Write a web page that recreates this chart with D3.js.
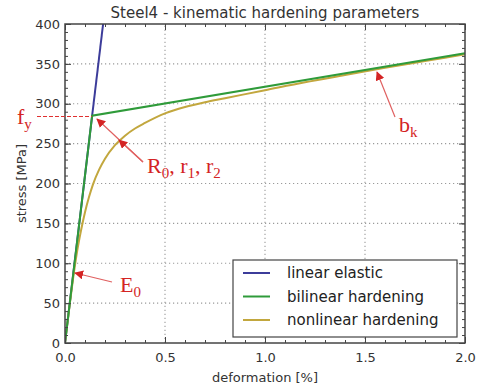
<!DOCTYPE html>
<html><head><meta charset="utf-8">
<script src="https://cdn.jsdelivr.net/npm/d3@7"></script>
<style>body{margin:0;background:#fff}svg{display:block}</style>
</head><body>
<svg id="c" width="478" height="389"></svg>
<script>
// Data (strain in %, stress in MPa)
const linearElastic = [[0, 0], [0.1905, 400]];
const bilinearHardening = [[0, 0], [0.1357, 285], [2.0, 363.3]];
const nonlinearStrain = [0, 0.02, 0.04, 0.06, 0.08, 0.10, 0.12, 0.14, 0.17, 0.20, 0.25, 0.30, 0.35, 0.40, 0.50, 0.60, 0.70, 0.80, 1.00, 1.20, 1.40, 1.60, 1.80, 2.00];
const nonlinearStress = [0, 41, 80, 114, 141, 164, 183, 199, 217, 231, 248, 260, 269, 276, 288, 296, 302, 307, 317, 327, 336, 345, 353.5, 362];
const xTicks = [0, 0.5, 1.0, 1.5, 2.0];
const yTicks = [0, 50, 100, 150, 200, 250, 300, 350, 400];
const seriesNames = ["linear elastic", "bilinear hardening", "nonlinear hardening"];
const seriesColors = ["#3c3c9a", "#2f9b3a", "#c2a73e"];
const fy = 285;

const svg = d3.select("#c");
const x = d3.scaleLinear().domain([0, 2]).range([65, 465]);
const y = d3.scaleLinear().domain([0, 400]).range([343, 24]);
const red = "#d42424";

const defs = svg.append("defs");
const clip = defs.append("clipPath").attr("id", "clip");
clip.append("rect").attr("x", x(0)).attr("y", y(400)).attr("width", x(2) - x(0)).attr("height", y(0) - y(400));
defs.append("marker").attr("id", "ah").attr("viewBox", "0 0 10 10").attr("refX", 9).attr("refY", 5)
  .attr("markerWidth", 9).attr("markerHeight", 9).attr("markerUnits", "userSpaceOnUse").attr("orient", "auto")
  .append("path").attr("d", "M0,0 L10,5 L0,10 z").attr("fill", red);

// grid
const grid = svg.append("g").attr("stroke", "#9a9a9a").attr("stroke-width", 1.1).attr("stroke-dasharray", "1.2,2.8");
xTicks.slice(1, -1).forEach(t => grid.append("line").attr("x1", x(t)).attr("x2", x(t)).attr("y1", y(0)).attr("y2", y(400)));
yTicks.slice(1, -1).forEach(t => grid.append("line").attr("y1", y(t)).attr("y2", y(t)).attr("x1", x(0)).attr("x2", x(2)));

// series
const line = d3.line().x(d => x(d[0])).y(d => y(d[1]));
const curve = d3.line().curve(d3.curveMonotoneX).x(d => x(d[0])).y(d => y(d[1]));
const nonlinear = nonlinearStrain.map((s, i) => [s, nonlinearStress[i]]);
const plot = svg.append("g").attr("clip-path", "url(#clip)");
plot.append("path").attr("d", line(linearElastic)).attr("fill", "none").attr("stroke", seriesColors[0]).attr("stroke-width", 2);
plot.append("path").attr("d", curve(nonlinear)).attr("fill", "none").attr("stroke", seriesColors[2]).attr("stroke-width", 2);
plot.append("path").attr("d", line(bilinearHardening)).attr("fill", "none").attr("stroke", seriesColors[1]).attr("stroke-width", 2);

// axes with inward ticks on all sides
const tickCol = "#444";
function axisG(axis, tx, ty) {
  const g = svg.append("g").attr("transform", `translate(${tx},${ty})`).call(axis);
  g.select(".domain").remove();
  g.selectAll("line").attr("stroke", tickCol).attr("stroke-width", 1);
  g.selectAll("text").attr("fill", "#333").attr("font-family", "DejaVu Sans").attr("font-size", 13);
  return g;
}
const xMinor = d3.range(0, 2.0001, 0.1);
const yMinor = d3.range(0, 400.0001, 10);
axisG(d3.axisBottom(x).tickValues(xMinor).tickSize(-3).tickFormat(""), 0, y(0));
axisG(d3.axisBottom(x).tickValues(xTicks).tickSize(-6).tickPadding(10).tickFormat(d3.format(".1f")), 0, y(0));
axisG(d3.axisTop(x).tickValues(xMinor).tickSize(-3).tickFormat(""), 0, y(400));
axisG(d3.axisTop(x).tickValues(xTicks).tickSize(-6).tickFormat(""), 0, y(400));
axisG(d3.axisLeft(y).tickValues(yMinor).tickSize(-3).tickFormat(""), x(0), 0);
axisG(d3.axisLeft(y).tickValues(yTicks).tickSize(-6).tickPadding(5).tickFormat(d3.format("d")), x(0), 0);
axisG(d3.axisRight(y).tickValues(yMinor).tickSize(-3).tickFormat(""), x(2), 0);
axisG(d3.axisRight(y).tickValues(yTicks).tickSize(-6).tickFormat(""), x(2), 0);

// frame
svg.append("rect").attr("x", x(0)).attr("y", y(400)).attr("width", x(2) - x(0)).attr("height", y(0) - y(400))
  .attr("fill", "none").attr("stroke", "#444").attr("stroke-width", 1.5);

// fy dashed line (drawn over frame)
svg.append("line").attr("x1", 37).attr("x2", x(bilinearHardening[1][0])).attr("y1", Math.round(y(fy)) + 0.5).attr("y2", Math.round(y(fy)) + 0.5)
  .attr("stroke", "#e03030").attr("stroke-width", 1).attr("stroke-dasharray", "4,2");

// title & labels
svg.append("text").attr("x", 265).attr("y", 18).attr("text-anchor", "middle").attr("font-family", "DejaVu Sans")
  .attr("font-size", 15).attr("fill", "#333").text("Steel4 - kinematic hardening parameters");
svg.append("text").attr("x", 265).attr("y", 382).attr("text-anchor", "middle").attr("font-family", "DejaVu Sans")
  .attr("font-size", 13).attr("fill", "#333").text("deformation [%]");
svg.append("text").attr("transform", `translate(26,${(y(0) + y(400)) / 2}) rotate(-90)`).attr("text-anchor", "middle")
  .attr("font-family", "DejaVu Sans").attr("font-size", 13).attr("fill", "#333").text("stress [MPa]");

// legend
const lg = svg.append("g");
lg.append("rect").attr("x", 233).attr("y", 260).attr("width", 224).attr("height", 77).attr("fill", "#fff")
  .attr("stroke", "#444").attr("stroke-width", 1.2);
seriesNames.forEach((n, i) => {
  const yy = 273 + i * 23.5;
  lg.append("line").attr("x1", 243).attr("x2", 270).attr("y1", yy).attr("y2", yy).attr("stroke", seriesColors[i]).attr("stroke-width", 2);
  lg.append("text").attr("x", 287).attr("y", yy + 5).attr("font-family", "DejaVu Sans").attr("font-size", 15).attr("fill", "#222").text(n);
});

// annotations
function subText(tx, ty, parts) {
  const t = svg.append("text").attr("x", tx).attr("y", ty).attr("font-family", "Liberation Serif").attr("font-size", 22).attr("fill", red);
  parts.forEach(p => {
    if (p.sub) t.append("tspan").attr("font-size", 15).attr("dy", 5).text(p.t);
    else t.append("tspan").attr("font-size", 22).attr("dy", p.up ? -5 : 0).text(p.t);
  });
  return t;
}
subText(17, 124, [{t: "f"}, {t: "y", sub: true}]);
subText(147, 173, [{t: "R"}, {t: "0", sub: true}, {t: ", r", up: true}, {t: "1", sub: true}, {t: ", r", up: true}, {t: "2", sub: true}]);
subText(120, 292, [{t: "E"}, {t: "0", sub: true}]);
subText(399, 132, [{t: "b"}, {t: "k", sub: true}]);

function arrow(x1, y1, x2, y2) {
  svg.append("line").attr("x1", x1).attr("y1", y1).attr("x2", x2).attr("y2", y2)
    .attr("stroke", "#e06060").attr("stroke-width", 1.2).attr("marker-end", "url(#ah)");
}
arrow(143, 162, 97, 119);
arrow(143, 162, 119, 140);
arrow(112, 282, 75, 273);
arrow(395, 117, 377, 72);
</script>
</body></html>
